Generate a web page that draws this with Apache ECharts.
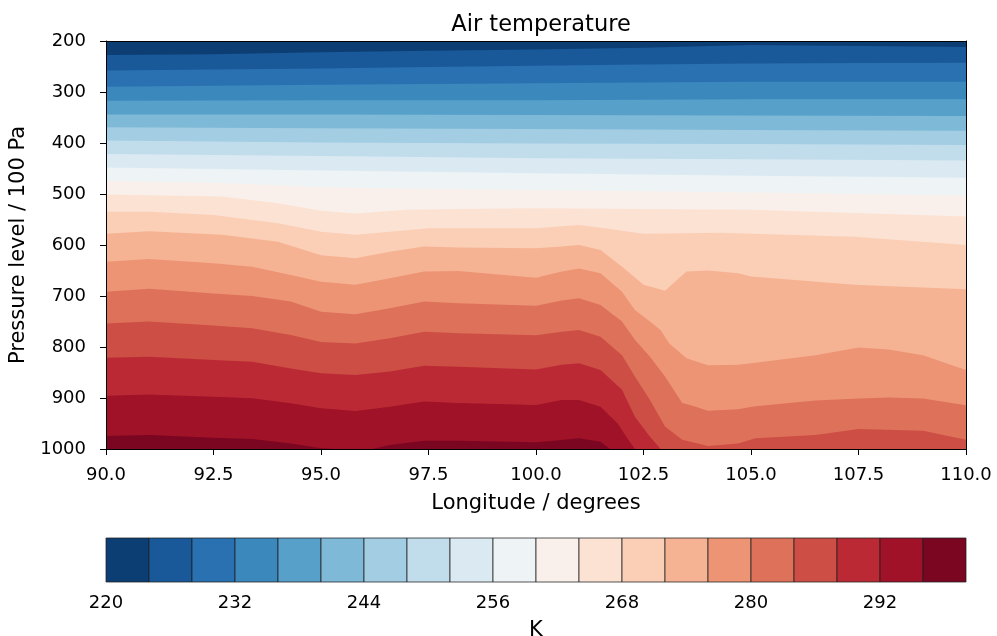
<!DOCTYPE html>
<html><head><meta charset="utf-8">
<script src="https://cdn.jsdelivr.net/npm/echarts@6/dist/echarts.min.js"></script>
<style>html,body{margin:0;padding:0;background:#fff}#c{width:997px;height:636px}</style>
</head><body><div id="c"></div>
<script>
// ---- data ----
const levels = [220,224,228,232,236,240,244,248,252,256,260,264,268,272,276,280,284,288,292,296,300];
const cbarTicks = [220,232,244,256,268,280,292];
// contour lines: [longitude, pressure level (100 Pa)]
const c224 = [[90,227.5],[92.5,226],[95,222],[97.5,219],[100,216.5],[102.5,213],[105,208],[107.5,210],[110,212]];
const c228 = [[90,258],[92.5,256],[95,254],[97.5,251],[100,248.5],[102.5,246],[105,244],[107.5,243],[110,242.5]];
const c232 = [[90,289.5],[95,286],[100,283],[105,280],[110,280]];
const c236 = [[90,317],[95,316],[100,316],[105,314],[110,314]];
const c240 = [[90,344],[95,344],[100,345],[105,346],[110,347]];
const c244 = [[90,369],[95,371],[100,372.5],[105,374.5],[110,376]];
const c248 = [[90,395],[95,399],[100,401],[105,402],[110,404]];
const c252 = [[90,421.5],[95,425.5],[100,430],[105,432],[110,434.5]];
const c256 = [[90,448],[95,454],[100,459.5],[105,464],[110,468]];
const c260 = [[90,474.5],[92.5,478],[95,487],[97.5,490],[100,492],[105,497],[110,503]];
const c264 = [[90,501],[92.7,505],[94,518],[95,533],[95.8,538],[97,531],[98.2,529.5],[100,528],[105,531],[110,544]];
const c268 = [[90,535],[91,535],[92.5,541],[94,557.5],[95,574],[95.8,580],[97,571],[97.5,567],[100,567],[101,561],[101.6,567],[102.5,578],[104.3,576],[107.4,584],[110,600]];
const c272 = [[90,578],[91,573],[92.7,580],[94,593.5],[95,620],[95.8,626],[96.6,613],[97.4,603],[98.2,605],[100,606.5],[100.6,603],[101,600],[101.5,610],[102,642.5],[102.5,678],[103,689.5],[103.5,652],[104,650],[104.7,655.5],[105,662],[107.4,678],[110,687]];
const c276 = [[90,633],[91,627.5],[92.5,636],[93.4,642.5],[94.3,659],[95,672],[95.8,678],[96.6,665],[97.4,652],[98.2,651],[100,664],[100.6,652],[101,646],[101.5,655.5],[102,691.5],[102.3,727.5],[102.65,750],[102.9,767],[103.1,793],[103.5,822],[104,836],[104.7,835],[105.1,831],[106.5,816],[107.5,801],[108.2,805],[109,816],[110,845]];
const c280 = [[90,691.5],[91,686],[92.5,695],[93.4,700],[94.3,711],[95,731],[95.8,736],[96.6,724],[97.4,711],[98.2,714],[100,719],[100.6,709],[101,704.6],[101.5,717.6],[102,750],[102.3,786],[102.65,819],[103,858],[103.4,910],[103.6,914],[104,925],[104.7,922],[105.1,916],[106.5,905],[107.5,901],[108.2,899],[109,901],[110,914]];
const c284 = [[90,754],[91,750],[92.5,758],[93.4,763],[94.3,776.5],[95,790],[95.8,793],[96.6,783],[97.4,770],[98.2,773],[100,777],[100.6,770],[101,766.7],[101.5,780],[102,816],[102.3,858],[102.65,904],[103,956],[103.4,982],[104,994],[104.7,989],[105.1,979],[106.5,972.5],[107.5,961],[109,964],[110,982]];
const c288 = [[90,821],[91,819],[92.5,825.5],[93.4,829],[94.3,842],[95,851.6],[95.8,855],[96.6,848],[97.4,837],[98.2,838.6],[100,844],[100.6,835],[101,832],[101.5,845],[102,884],[102.3,936.6],[102.65,976],[102.9,1000],[110,1000]];
const c292 = [[90,895.5],[91,893],[92.5,897.4],[93.4,900.6],[94.3,910.4],[95,920],[95.8,925.5],[96.6,917],[97.4,907],[98.2,910],[100,913.7],[100.6,904],[101,904],[101.5,917],[101.9,950],[102.1,976],[102.3,1000],[110,1000]];
const c296 = [[90,974.5],[91,972.5],[92.5,978],[93.4,980.4],[94.3,989],[95,998.6],[95.3,1000],[96.2,1000],[96.6,992],[97.4,984],[98.2,984],[100,987],[100.6,982.4],[101,979],[101.5,985.6],[101.72,1000],[110,1000]];
const contours = [c224,c228,c232,c236,c240,c244,c248,c252,c256,c260,c264,c268,c272,c276,c280,c284,c288,c292,c296];

// ---- colormap (RdBu_r) ----
const anchors = [[5,48,97],[33,102,172],[67,147,195],[146,197,222],[209,229,240],[247,247,247],[253,219,199],[244,165,130],[214,96,77],[178,24,43],[103,0,31]];
function rdbuR(t){
  const f = t*10, i = Math.min(9, Math.floor(f)), r = f - i;
  const a = anchors[i], b = anchors[i+1];
  const c = a.map((v,j)=>Math.round(v + (b[j]-v)*r));
  return 'rgb(' + c.join(',') + ')';
}
const nb = levels.length - 1;
const bandColors = [];
for (let k = 0; k < nb; k++) bandColors.push(rdbuR((k + 0.5) / nb));

const font = 'DejaVu Sans';
const series = [];
// warmest contour first; each fills from its line up to the top with the band just colder
for (let i = contours.length - 1; i >= 0; i--) {
  series.push({
    type: 'line', xAxisIndex: 0, yAxisIndex: 0, data: contours[i],
    symbol: 'none', silent: true, animation: false,
    lineStyle: { width: 0, opacity: 0 },
    areaStyle: { color: bandColors[i], opacity: 1, origin: 'start' }
  });
}
const bands = [];
for (let k = 0; k < nb; k++) bands.push([levels[k], levels[k+1], k]);
series.push({
  type: 'custom', xAxisIndex: 2, yAxisIndex: 2, data: bands, silent: true, animation: false,
  encode: { x: [0, 1] },
  renderItem: function (params, api) {
    const p0 = api.coord([api.value(0), 1]);
    const p1 = api.coord([api.value(1), 0]);
    return { type: 'rect', shape: { x: p0[0], y: p0[1], width: p1[0] - p0[0], height: p1[1] - p0[1] },
      style: { fill: bandColors[api.value(2)], stroke: 'rgba(30,30,30,0.75)', lineWidth: 1 } };
  }
});

const txt = { color: '#000', fontFamily: font };
const chart = echarts.init(document.getElementById('c'), null, { renderer: 'canvas' });
chart.setOption({
  backgroundColor: '#fff',
  animation: false,
  title: { text: 'Air temperature', left: 536, top: 9, textAlign: 'center',
    textStyle: { fontFamily: font, fontSize: 22.5, fontWeight: 'normal', color: '#000' } },
  grid: [
    { left: 106, top: 41, width: 860, height: 408, show: true, backgroundColor: bandColors[nb-1], borderWidth: 0,
      containLabel: false, outerBoundsMode: 'none' },
    { left: 106, top: 538, width: 860, height: 44, show: false, containLabel: false, outerBoundsMode: 'none' }
  ],
  xAxis: [
    { gridIndex: 0, type: 'value', min: 90, max: 110, interval: 2.5, position: 'bottom', z: 10,
      axisLine: { show: true, onZero: false, lineStyle: { color: '#000', width: 1 } },
      axisTick: { show: true, inside: false, length: 6, lineStyle: { color: '#000' } },
      axisLabel: Object.assign({ fontSize: 18, margin: 17, formatter: v => v.toFixed(1) }, txt),
      splitLine: { show: false },
      name: 'Longitude / degrees', nameLocation: 'middle', nameGap: 44,
      nameTextStyle: Object.assign({ fontSize: 21 }, txt) },
    { gridIndex: 0, type: 'value', min: 90, max: 110, position: 'top', z: 10,
      axisLine: { show: true, onZero: false, lineStyle: { color: '#000', width: 1 } },
      axisTick: { show: false }, axisLabel: { show: false }, splitLine: { show: false } },
    { gridIndex: 1, type: 'value', min: 220, max: 300, interval: 12, position: 'bottom', z: 10,
      axisLine: { show: false }, axisTick: { show: false },
      axisLabel: Object.assign({ fontSize: 18, margin: 12, showMaxLabel: false, formatter: v => String(v) }, txt),
      splitLine: { show: false },
      name: 'K', nameLocation: 'middle', nameGap: 38,
      nameTextStyle: Object.assign({ fontSize: 21 }, txt) }
  ],
  yAxis: [
    { gridIndex: 0, type: 'value', min: 200, max: 1000, interval: 100, inverse: true, position: 'left', z: 10,
      axisLine: { show: true, onZero: false, lineStyle: { color: '#000', width: 1 } },
      axisTick: { show: true, inside: false, length: 6, lineStyle: { color: '#000' } },
      axisLabel: Object.assign({ fontSize: 18, margin: 20, formatter: v => String(v) }, txt),
      splitLine: { show: false },
      name: 'Pressure level / 100 Pa', nameLocation: 'middle', nameGap: 74, nameRotate: 90,
      nameTextStyle: Object.assign({ fontSize: 21 }, txt) },
    { gridIndex: 0, type: 'value', min: 200, max: 1000, inverse: true, position: 'right', z: 10,
      axisLine: { show: true, onZero: false, lineStyle: { color: '#000', width: 1 } },
      axisTick: { show: false }, axisLabel: { show: false }, splitLine: { show: false } },
    { gridIndex: 1, type: 'value', min: 0, max: 1, show: false }
  ],
  series: series
});
</script></body></html>
